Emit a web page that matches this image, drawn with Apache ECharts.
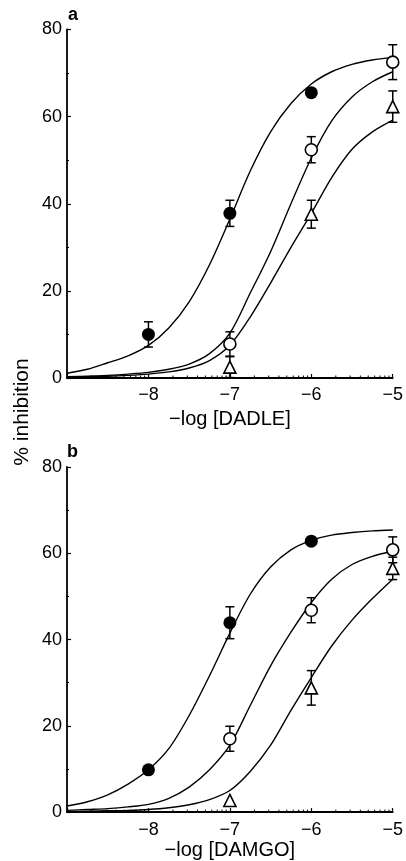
<!DOCTYPE html>
<html><head><meta charset="utf-8">
<script src="https://cdn.jsdelivr.net/npm/echarts@6/dist/echarts.min.js"></script>
<style>html,body{margin:0;padding:0;background:#fff}#c{width:406px;height:861px}</style>
</head><body><div id="c"></div>
<script>
// ---- axis definitions ----
const xTicks = [-9, -8, -7, -6, -5];
const yTicks = [0, 20, 40, 60, 80];
const panelLabels = ['a', 'b'];
const xNames = ['\u2212log [DADLE]', '\u2212log [DAMGO]'];
const yName = '% inhibition';

// ---- fitted curves ----
const curveX = [-9, -8.75, -8.5, -8.25, -8, -7.75, -7.5, -7.25, -7, -6.75, -6.5, -6.25, -6, -5.75, -5.5, -5.25, -5];
const aCurveFilled = [1.1, 2.0, 3.5, 5.1, 7.5, 11.5, 17.5, 26, 36.5, 47.5, 56.5, 63, 67.5, 70.3, 72, 73, 73.6];
const aCurveOpen   = [0.3, 0.4, 0.6, 0.9, 1.3, 2.0, 3.2, 5.6, 10.3, 19.5, 29, 40, 50.5, 59, 64.5, 68, 70.3];
const aCurveTri    = [0.2, 0.3, 0.4, 0.6, 0.9, 1.4, 2.3, 4.0, 7.5, 14, 21.8, 30, 37.8, 46, 52.5, 56.5, 59.2];
const bCurveFilled = [1.4, 2.4, 4.0, 6.5, 9.8, 14.7, 22.4, 31.6, 41.5, 50.5, 56.8, 60.8, 63, 64.2, 64.8, 65.2, 65.4];
const bCurveOpen   = [0.4, 0.6, 0.8, 1.2, 1.8, 3.2, 5.8, 9.8, 15.5, 24.7, 33.9, 41.7, 48.6, 54, 57.4, 59.3, 60.4];
const bCurveTri    = [0.1, 0.2, 0.3, 0.4, 0.6, 1.0, 1.7, 2.9, 5.0, 9.4, 15.5, 23.6, 31.2, 38.5, 44.5, 49.5, 54];

// ---- data points (mean, s.e.) ----
const aFilledX = [-8, -7, -6];  const aFilledY = [10, 37.8, 65.5]; const aFilledE = [2.9, 3, 0];
const aOpenX   = [-7, -6, -5];  const aOpenY   = [7.8, 52.4, 72.5]; const aOpenE  = [2.8, 3, 4];
const aTriX    = [-7, -6, -5];  const aTriY    = [2.5, 37.6, 62.3]; const aTriE   = [2.4, 3.2, 3.6];
const bFilledX = [-8, -7, -6];  const bFilledY = [9.8, 43.9, 62.8]; const bFilledE = [0, 3.7, 0];
const bOpenX   = [-7, -6, -5];  const bOpenY   = [17, 46.8, 60.8]; const bOpenE   = [2.9, 2.9, 3];
const bTriX    = [-7, -6, -5];  const bTriY    = [2.7, 28.8, 56.5]; const bTriE   = [0, 4, 2.6];

// log-decade minor tick positions on the x axes
const minorTicks = [];
for (let d = -9; d < -5; d++) for (let k = 2; k <= 9; k++) minorTicks.push(d + Math.log10(k));

const FONT = '"Liberation Sans", Arial, sans-serif';
const grids = [
  {left: 67, top: 29.5, width: 333, height: 348.5},
  {left: 67, top: 467, width: 333, height: 347}
];

function xAxis(i, labelMargin, nameGap) {
  return {
    type: 'value', gridIndex: i, min: -9, max: -5, interval: 1,
    axisLine: {show: true, onZero: false, lineStyle: {color: '#000', width: 1.8}},
    axisTick: {show: true, inside: true, length: 4, lineStyle: {color: '#000', width: 1.2}},
    axisLabel: {margin: labelMargin, color: '#000', fontSize: 18, fontFamily: FONT,
      formatter: v => (v === -9 ? '' : '\u2212' + Math.abs(v))},
    splitLine: {show: false},
    name: xNames[i], nameLocation: 'middle', nameGap: nameGap,
    nameTextStyle: {color: '#000', fontSize: 20, fontFamily: FONT}
  };
}
function yAxis(i) {
  return {
    type: 'value', gridIndex: i, min: 0, max: 80, interval: 20,
    axisLine: {show: true, lineStyle: {color: '#000', width: 1.8}},
    axisTick: {show: true, inside: true, length: 4, lineStyle: {color: '#000', width: 1.2}},
    minorTick: {show: true, splitNumber: 2, length: 2, lineStyle: {color: '#000', width: 1}},
    axisLabel: {margin: 5, color: '#000', fontSize: 18, fontFamily: FONT},
    splitLine: {show: false}
  };
}

function curve(i, ys) {
  return {type: 'line', xAxisIndex: i, yAxisIndex: i, data: curveX.map((x, j) => [x, ys[j]]),
    smooth: 0.3, showSymbol: false, symbol: 'none', silent: true, z: 2,
    lineStyle: {color: '#000', width: 1.4}};
}
function errBars(i, xs, ys, es) {
  return {type: 'custom', xAxisIndex: i, yAxisIndex: i, z: 3, silent: true, clip: false,
    data: xs.map((x, j) => [x, ys[j], es[j]]),
    renderItem(params, api) {
      const x = api.value(0), y = api.value(1), e = api.value(2);
      if (!e) return null;
      const t = api.coord([x, y + e]), b = api.coord([x, Math.max(0, y - e)]);
      const hw = 4.5, st = {stroke: '#000', lineWidth: 1.5};
      return {type: 'group', children: [
        {type: 'line', shape: {x1: t[0], y1: t[1], x2: b[0], y2: b[1]}, style: st},
        {type: 'line', shape: {x1: t[0] - hw, y1: t[1], x2: t[0] + hw, y2: t[1]}, style: st},
        {type: 'line', shape: {x1: b[0] - hw, y1: b[1], x2: b[0] + hw, y2: b[1]}, style: st}
      ]};
    }};
}
function points(i, xs, ys, kind) {
  const s = {type: 'scatter', xAxisIndex: i, yAxisIndex: i, z: 4, silent: true, clip: false,
    data: xs.map((x, j) => [x, ys[j]])};
  if (kind === 'filled') { s.symbol = 'circle'; s.symbolSize = 13; s.itemStyle = {color: '#000', opacity: 1}; }
  else if (kind === 'open') { s.symbol = 'circle'; s.symbolSize = 12; s.itemStyle = {color: '#fff', borderColor: '#000', borderWidth: 1.6, opacity: 1}; }
  else { s.symbol = 'triangle'; s.symbolSize = [12, 12]; s.itemStyle = {color: '#fff', borderColor: '#000', borderWidth: 1.6, opacity: 1}; }
  return s;
}
function logTicks(i) {
  return {type: 'custom', xAxisIndex: i, yAxisIndex: i, z: 5, silent: true, clip: false,
    data: minorTicks.map(x => [x, 0]),
    renderItem(params, api) {
      const p = api.coord([api.value(0), 0]);
      return {type: 'line', shape: {x1: p[0], y1: p[1], x2: p[0], y2: p[1] - 2.5}, style: {stroke: '#000', lineWidth: 1}};
    }};
}

const chart = echarts.init(document.getElementById('c'), null, {renderer: 'canvas'});
chart.setOption({
  animation: false,
  backgroundColor: '#fff',
  grid: grids,
  xAxis: [xAxis(0, 8, 31), xAxis(1, 9, 27)],
  yAxis: [yAxis(0), yAxis(1)],
  graphic: [
    {type: 'text', left: 68, top: 6, style: {text: panelLabels[0], font: 'bold 18px ' + FONT, fill: '#000'}},
    {type: 'text', left: 67, top: 443, style: {text: panelLabels[1], font: 'bold 18px ' + FONT, fill: '#000'}},
    {type: 'text', x: 22, y: 412, rotation: Math.PI / 2,
      style: {text: yName, font: '21px ' + FONT, fill: '#000', textAlign: 'center', textVerticalAlign: 'middle'}}
  ],
  series: [
    curve(0, aCurveFilled), curve(0, aCurveOpen), curve(0, aCurveTri),
    curve(1, bCurveFilled), curve(1, bCurveOpen), curve(1, bCurveTri),
    errBars(0, aFilledX, aFilledY, aFilledE), errBars(0, aOpenX, aOpenY, aOpenE), errBars(0, aTriX, aTriY, aTriE),
    errBars(1, bFilledX, bFilledY, bFilledE), errBars(1, bOpenX, bOpenY, bOpenE), errBars(1, bTriX, bTriY, bTriE),
    points(0, aFilledX, aFilledY, 'filled'), points(0, aOpenX, aOpenY, 'open'), points(0, aTriX, aTriY, 'tri'),
    points(1, bFilledX, bFilledY, 'filled'), points(1, bOpenX, bOpenY, 'open'), points(1, bTriX, bTriY, 'tri'),
    logTicks(0), logTicks(1)
  ]
});
</script></body></html>
